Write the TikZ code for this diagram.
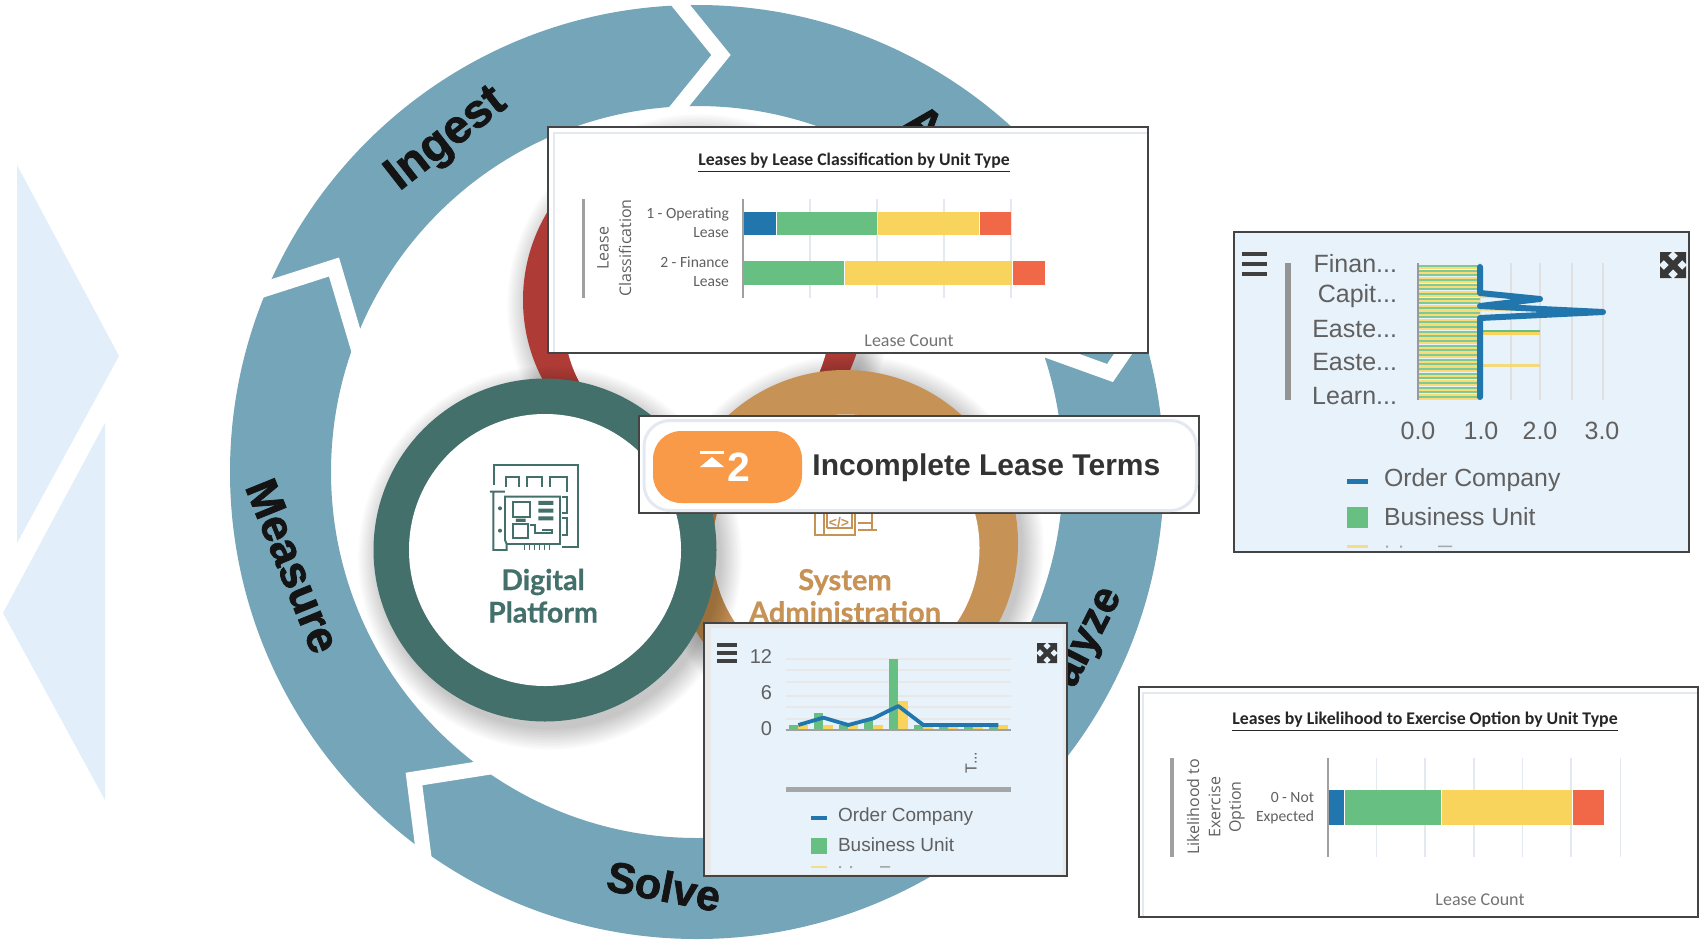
\documentclass[tikz,border=0pt]{standalone}
\usepackage{fontspec}
\setmainfont{Liberation Sans}
\newfontfamily\lato[FakeBold=0.6]{Lato Bold}
\newfontfamily\heavy[FakeBold=1.6]{Liberation Sans Bold}
\newfontfamily\carl{Carlito}
\newfontfamily\opens{Open Sans}
\definecolor{ringc}{HTML}{74A5B8}
\definecolor{greenring}{HTML}{44706C}
\definecolor{redring}{HTML}{AF3B36}
\definecolor{tanring}{HTML}{C69255}
\definecolor{palebg}{HTML}{E3EEFB}
\definecolor{panelbg}{HTML}{E8F2FA}
\definecolor{barblue}{HTML}{2176AE}
\definecolor{bargreen}{HTML}{68BF82}
\definecolor{baryellow}{HTML}{F9D45C}
\definecolor{barred}{HTML}{F06848}
\definecolor{gridc}{HTML}{E4E8F0}
\definecolor{framec}{HTML}{444444}
\definecolor{axisg}{HTML}{A0A0A0}
\definecolor{txtg}{HTML}{606060}
\definecolor{pillc}{HTML}{F99A48}
\newcommand\fz[1]{\fontsize{#1}{#1}\selectfont}
\newcommand\softshadow[3]{\foreach \i in {0,...,13}{\fill[black,opacity=0.014] (#1,#2) circle [radius=#3+\i*1.6];}}
\newcommand\xpand[3]{\begin{scope}[shift={(#1,#2)},x=#3*0.5pt,y=-#3*0.5pt]
\draw[color=black!78,line width=#3*0.115pt] (0.15,0.15)--(0.85,0.85) (0.85,0.15)--(0.15,0.85);
\fill[black!78] (0,0)--(0.46,0)--(0,0.46)--cycle (1,0)--(0.54,0)--(1,0.46)--cycle (0,1)--(0.46,1)--(0,0.54)--cycle (1,1)--(0.54,1)--(1,0.54)--cycle;
\end{scope}}
\tikzset{
  lab/.style={inner sep=0pt,outer sep=0pt,text=txtg},
  ringlabel/.style={inner sep=0pt,text=black!92,font=\heavy\fz{22}},
  chartframe/.style={draw=framec,line width=0.55pt,fill=white},
  gridline/.style={draw=gridc,line width=0.8pt},
  chev/.style={draw=white,line width=7.5pt,miter limit=10},
}
\begin{document}
\begin{tikzpicture}[x=0.5pt,y=-0.5pt]
\useasboundingbox (0,0) rectangle (1701,942);
\fill[white] (0,0) rectangle (1701,942);
% pale chevrons
\fill[palebg] (17,165)--(119,356)--(17,543)--cycle;
\fill[palebg] (105,423)--(3,613)--(105,800)--cycle;
% outer ring
\fill[ringc,even odd rule] (697,472) circle [radius=467] (697,472) circle [radius=366];
\draw[chev] (640,-45)--(721,55)--(640,155);
\draw[chev] (200,310)--(334,267)--(372,395);
\draw[chev] (560,756)--(414,779)--(432,920);
\draw[chev] (985,328)--(1110,373)--(1170,285);
\node[ringlabel,rotate=38,font=\heavy\fz{23.5}] (ingest) at (447,140) {Ingest};
\node[ringlabel,rotate=-68,font=\heavy\fz{22.5}] (measure) at (293,566) {Measure};
\node[ringlabel,rotate=-11,font=\heavy\fz{21.5}] (solve) at (664,886) {Solve};
\node[ringlabel,rotate=63,font=\heavy\fz{21.5}] (alyze) at (1088,637) {alyze};
\node[ringlabel,rotate=-40,font=\heavy\fz{23}] (topa) at (925,124) {A};
% red ring
\softshadow{699}{306}{171}
\fill[redring] (694,300) circle [radius=171];
\fill[white] (697,320) circle [radius=133];
% tan ring
\softshadow{850}{549}{173}
\fill[tanring] (845,543) circle [radius=173];
\fill[white] (846,548) circle [radius=133.5];
\begin{scope}[shift={(800,500)},x=0.5pt/3,y=-0.5pt/3,draw=tanring,line width=0.9pt]
\draw (45,30)--(45,105)--(165,105)--(165,30) (72,30)--(72,105) (80,85)--(155,85)--(155,30) (80,85)--(80,30);
\draw (175,90)--(230,90) (175,70)--(215,70) (215,40)--(215,90);
\node[text=tanring,inner sep=0pt,font=\bfseries\fz{7}] (codeglyph) at (117,68) {</>};
\end{scope}
\node[inner sep=0pt,text=tanring,font=\lato\fz{14.5}] (sys1) at (845,582) {System};
\node[inner sep=0pt,text=tanring,font=\lato\fz{14.5}] (sys2) at (845,612) {Administration};
% green ring
\softshadow{550}{558}{171}
\fill[greenring] (545,550) circle [radius=171.5];
\fill[white] (545,550) circle [radius=136];
\begin{scope}[shift={(360,370)},x=0.5pt/3,y=-0.5pt/3,draw=greenring,line width=0.95pt]
\draw (403,345)--(403,285)--(655,285)--(655,530)--(605,530);
\draw (438,350)--(438,320)--(478,320)--(478,350) (500,350)--(500,320)--(545,320)--(545,350) (570,350)--(570,320)--(620,320)--(620,365);
\draw (605,380)--(620,380)--(620,430)--(605,430) (605,445)--(620,445)--(620,495)--(605,495);
\draw (390,365)--(435,365) (400,365)--(400,540)--(440,540)--(440,522)--(600,522)--(600,380)--(435,380)--(435,510)--(440,522);
\draw (458,395) rectangle (510,440) (458,462) rectangle (505,505);
\fill[greenring] (535,393) rectangle (580,405) (535,416) rectangle (580,428) (535,439) rectangle (580,451) (468,446) rectangle (497,456);
\draw (510,465)--(525,465)--(525,490)--(575,490)--(575,480)--(545,480);
\fill[greenring] (420,415) circle [radius=6] (420,482) circle [radius=6];
\draw[line width=0.5pt] (495,525)--(495,540) (510,525)--(510,540) (525,525)--(525,540) (540,525)--(540,540) (555,525)--(555,540) (568,525)--(568,540);
\end{scope}
\node[inner sep=0pt,text=greenring,font=\lato\fz{14.3}] (dig1) at (543,582) {Digital};
\node[inner sep=0pt,text=greenring,font=\lato\fz{14.3}] (dig2) at (543,612) {Platform};
% chart 1
\draw[chartframe] (548,127) rectangle (1148,353);
\draw[draw=gridc,line width=0.8pt] (554,352)--(554,133)--(1147,133);
\node[inner sep=0pt,text=black!85,font=\carl\bfseries\fz{8.85}] (t1) at (854,163) {\underline{Leases by Lease Classification by Unit Type}};
\fill[axisg] (581.5,199) rectangle (585,298);
\node[lab,rotate=90,font=\opens\fz{8}] (a1) at (603,248) {Lease};
\node[lab,rotate=90,font=\opens\fz{8}] (a2) at (625,248) {Classification};
\node[lab,anchor=east,font=\carl\fz{7.8}] (l1) at (729,214) {1 - Operating};
\node[lab,anchor=east,font=\carl\fz{7.8}] (l2) at (729,233) {Lease};
\node[lab,anchor=east,font=\carl\fz{7.8}] (l3) at (729,262) {2 - Finance};
\node[lab,anchor=east,font=\carl\fz{7.8}] (l4) at (729,282) {Lease};
\foreach \x in {810,877,944,1011} \draw[gridline] (\x,199)--(\x,298);
\fill[barblue] (743,212) rectangle (776,235);
\fill[bargreen] (777,212) rectangle (877,235);
\fill[baryellow] (878,212) rectangle (979,235);
\fill[barred] (980,212) rectangle (1011,235);
\fill[bargreen] (743,261) rectangle (843.5,285);
\fill[baryellow] (844.5,261) rectangle (1011.5,285);
\fill[barred] (1012.5,261) rectangle (1045,285);
\draw[axisg,line width=0.7pt] (743,199)--(743,298);
\node[lab,text=black!55,font=\carl\fz{9}] (c1) at (909,341) {Lease Count};
% pill panel
\draw[chartframe] (639,416) rectangle (1199,513);
\draw[draw=gridc,line width=1.5pt,fill=white,rounded corners=13pt] (644,420.5) rectangle (1196.5,510.5);
\fill[pillc,rounded corners=14pt] (653,431) rectangle (802,503);
\fill[white] (700,451) rectangle (724,453.5);
\fill[white] (712,457)--(724,467)--(700,467)--cycle;
\node[inner sep=0pt,text=white,font=\bfseries\fz{20.5}] (p2) at (739,467) {2};
\node[inner sep=0pt,anchor=west,text=black!80,font=\bfseries\fz{15}] (ptext) at (812,468) {Incomplete Lease Terms};
% chart 2 right
\draw[framec,line width=0.6pt,fill=panelbg] (1234,232) rectangle (1689,552);
\foreach \y in {254,264,274} \draw[black!75,line width=1.9pt] (1242,\y)--(1267,\y);
\xpand{1660}{252}{26}
\fill[black!42] (1285,263) rectangle (1291,400);
\node[lab,anchor=east,font=\fz{12.5}] (r1) at (1397,264) {Finan...};
\node[lab,anchor=east,font=\fz{12.5}] (r2) at (1397,296) {Capit...};
\node[lab,anchor=east,font=\fz{12.5}] (r3) at (1397,329) {Easte...};
\node[lab,anchor=east,font=\fz{12.5}] (r4) at (1397,362) {Easte...};
\node[lab,anchor=east,font=\fz{12.5}] (r5) at (1397,396) {Learn...};
\foreach \x in {1480,1511,1540,1572,1603} \draw[gridline,draw=black!12] (\x,263)--(\x,400);
\draw[draw=black!40,line width=0.7pt] (1418,263)--(1418,400);
\foreach \i in {0,...,28}{
  \fill[bargreen!85!white] (1419,265+\i*4.68) rectangle (1480,267+\i*4.68);
  \fill[baryellow!85!white] (1419,267.2+\i*4.68) rectangle (1480,269.4+\i*4.68);
}
\fill[baryellow,opacity=.6] (1480,296) rectangle (1510,298) (1480,309) rectangle (1535,311);
\fill[bargreen] (1480,330) rectangle (1540,332.2);
\fill[baryellow] (1480,332.4) rectangle (1540,334.5);
\fill[baryellow,opacity=.8] (1480,364) rectangle (1540,366.5);
\draw[barblue,line width=3pt,line join=round,line cap=round] (1480,267)--(1480,293)--(1540,299)--(1480,306)--(1603,312)--(1480,318)--(1480,397);
\node[lab,font=\fz{12.5}] (x0) at (1418,431) {0.0};
\node[lab,font=\fz{12.5}] (x1) at (1481,431) {1.0};
\node[lab,font=\fz{12.5}] (x2) at (1540,431) {2.0};
\node[lab,font=\fz{12.5}] (x3) at (1602,431) {3.0};
\fill[barblue] (1347,478.5) rectangle (1368,484);
\node[lab,anchor=west,font=\fz{12.4}] (lg1) at (1384,480) {Order Company};
\fill[bargreen] (1347,507) rectangle (1368,528);
\node[lab,anchor=west,font=\fz{12.4}] (lg2) at (1384,517) {Business Unit};
\fill[baryellow,opacity=.7] (1347,545) rectangle (1368,547.5);
\fill[black!35] (1386,545.5) rectangle (1388,547.5) (1400,545.5) rectangle (1402,547.5) (1438,545.5) rectangle (1452,547);
% chart 3 bottom
\draw[framec,line width=0.6pt,fill=black!9] (704,623) rectangle (1067,876);
\fill[panelbg] (711,628) rectangle (1063,874);
\foreach \y in {645,653,661} \draw[black!75,line width=1.6pt] (717,\y)--(737,\y);
\xpand{1037}{643}{20}
\node[lab,anchor=east,font=\fz{10}] (y12) at (772,657) {12};
\node[lab,anchor=east,font=\fz{10}] (y6) at (772,693) {6};
\node[lab,anchor=east,font=\fz{10}] (y0) at (772,729) {0};
\foreach \y in {659,670,682,696,707,719} \draw[gridline,draw=black!9] (786,\y)--(1011,\y);
\begin{scope}[shift={(700,620)},x=0.5pt/3,y=-0.5pt/3]
\foreach \xx/\g/\yy in {267/315/315,342/278/315,417/315/315,492/300/315,567/118/243,642/315/322,717/315/322,792/315/322,867/315/315}{
  \fill[bargreen] (\xx,331) rectangle (\xx+28,\g);
  \fill[baryellow] (\xx+28,331) rectangle (\xx+56,\yy);
}
\draw[axisg,line width=1pt] (257,331)--(932,331);
\draw[barblue,line width=1.9pt,line join=round] (295,315)--(370,293)--(445,315)--(520,295)--(595,258)--(670,315)--(745,315)--(820,315)--(895,315);
\end{scope}
\node[lab,rotate=90,anchor=west,font=\fz{8}] (tdots) at (971,773) {T...};
\fill[black!35] (786,787) rectangle (1011,792);
\fill[barblue] (811,816) rectangle (827,820);
\node[lab,anchor=west,font=\fz{9.5}] (lg3) at (838,817) {Order Company};
\fill[bargreen] (811,838) rectangle (827,854);
\node[lab,anchor=west,font=\fz{9.5}] (lg4) at (838,845) {Business Unit};
\fill[baryellow,opacity=.7] (811,866) rectangle (827,868);
\fill[black!35] (839,866) rectangle (841,868) (850,866) rectangle (852,868) (880,866) rectangle (890,867.5);
% chart 4
\draw[chartframe] (1139,687) rectangle (1698,917);
\draw[draw=gridc,line width=0.8pt] (1143,916)--(1143,693)--(1697,693);
\node[inner sep=0pt,text=black!85,font=\carl\bfseries\fz{8.9}] (t4) at (1425,722) {\underline{Leases by Likelihood to Exercise Option by Unit Type}};
\fill[axisg] (1170,758) rectangle (1174,857);
\node[lab,rotate=90,font=\opens\fz{8}] (b1) at (1193,807) {Likelihood to};
\node[lab,rotate=90,font=\opens\fz{8}] (b2) at (1214.5,807) {Exercise};
\node[lab,rotate=90,font=\opens\fz{8}] (b3) at (1237,807) {Option};
\node[lab,anchor=east,font=\carl\fz{7.8}] (m1) at (1314,797) {0 - Not};
\node[lab,anchor=east,font=\carl\fz{7.8}] (m2) at (1314,817) {Expected};
\foreach \x in {1376.5,1425,1474,1522.6,1571,1620.5} \draw[gridline] (\x,758)--(\x,857);
\fill[barblue] (1328,790) rectangle (1344,825);
\fill[bargreen] (1345,790) rectangle (1441,825);
\fill[baryellow] (1442,790) rectangle (1571.5,825);
\fill[barred] (1573,790) rectangle (1604,825);
\draw[axisg,line width=0.7pt] (1328,758)--(1328,857);
\node[lab,text=black!55,font=\carl\fz{9}] (c4) at (1480,900) {Lease Count};
\end{tikzpicture}
\end{document}
